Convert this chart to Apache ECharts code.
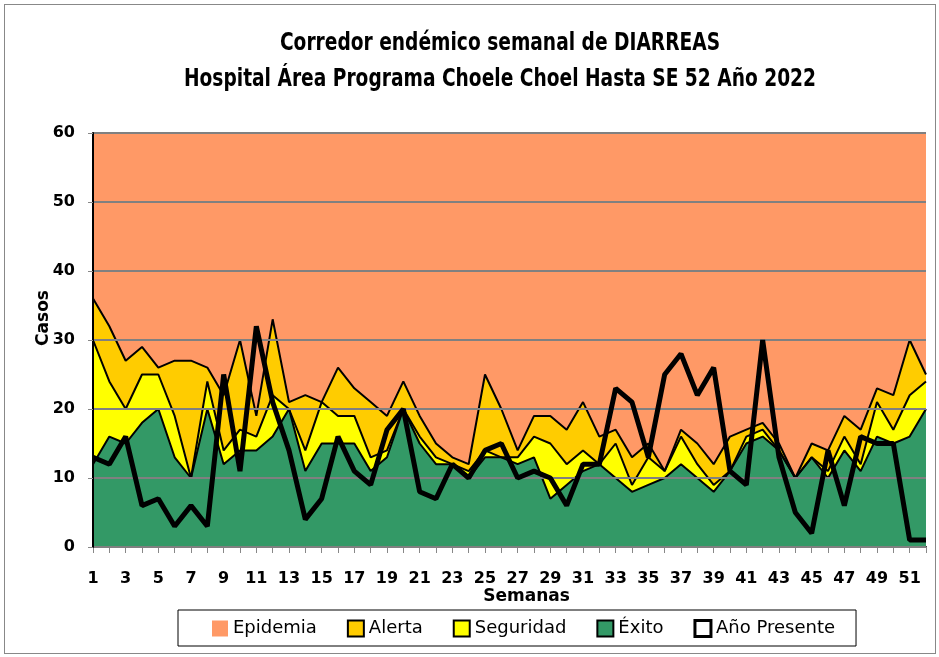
<!DOCTYPE html>
<html>
<head>
<meta charset="utf-8">
<script src="https://cdn.jsdelivr.net/npm/echarts@6/dist/echarts.min.js"></script>
<style>
    html, body {margin: 0; padding: 0; background: #fff;}
    #frame {position: absolute; left: 4px; top: 4px; width: 930px; height: 648px; border: 1px solid #888;}
    #chart {position: absolute; left: 0; top: 0; width: 939px; height: 657px;}
</style>
</head>
<body>
<div id="frame"></div>
<div id="chart"></div>
<script>
const FONT = "'DejaVu Sans', 'Liberation Sans', sans-serif";

const titleLines = [
    'Corredor endémico semanal de DIARREAS',
    'Hospital Área Programa Choele Choel Hasta SE 52 Año 2022'
];

const weeks = [];
for (let i = 1; i <= 52; i++) {
    weeks.push(String(i));
}

const epidemia = new Array(52).fill(60);

const alerta = [36, 32, 27, 29, 26, 27, 27, 26, 22, 30, 19, 33, 21, 22, 21, 26, 23, 21, 19, 24,
    19, 15, 13, 12, 25, 20, 14, 19, 19, 17, 21, 16, 17, 13, 15, 11, 17, 15, 12, 16,
    17, 18, 15, 10, 15, 14, 19, 17, 23, 22, 30, 25];

const seguridad = [30, 24, 20, 25, 25, 19, 10, 24, 14, 17, 16, 22, 20, 14, 21, 19, 19, 13, 14, 20,
    16, 13, 12, 11, 14, 13, 13, 16, 15, 12, 14, 12, 15, 9, 13, 11, 16, 12, 9, 11,
    16, 17, 14, 10, 13, 11, 16, 12, 21, 17, 22, 24];

const exito = [12, 16, 15, 18, 20, 13, 10, 20, 12, 14, 14, 16, 20, 11, 15, 15, 15, 11, 13, 20,
    15, 12, 12, 10, 13, 13, 12, 13, 7, 9, 11, 12, 10, 8, 9, 10, 12, 10, 8, 11,
    15, 16, 14, 10, 13, 10, 14, 11, 16, 15, 16, 20];

const anioPresente = [13, 12, 16, 6, 7, 3, 6, 3, 25, 11, 32, 21, 14, 4, 7, 16, 11, 9, 17, 20,
    8, 7, 12, 10, 14, 15, 10, 11, 10, 6, 12, 12, 23, 21, 13, 25, 28, 22, 26, 11,
    9, 30, 13, 5, 2, 14, 6, 16, 15, 15, 1, 1];

const yTicks = [0, 10, 20, 30, 40, 50, 60];

function areaSeries(name, data, color, lineWidth) {
    return {
        name: name,
        type: 'line',
        data: data,
        showSymbol: false,
        symbol: 'none',
        itemStyle: {color: color},
        lineStyle: {color: '#000', width: lineWidth},
        areaStyle: {color: color, opacity: 1},
        emphasis: {disabled: true}
    };
}

// titulo estrecho: texto escalado en x
function titleText(text, y) {
    return {
        type: 'text',
        x: 500,
        y: y,
        scaleX: 0.745,
        style: {
            text: text,
            x: 0,
            y: 0,
            align: 'center',
            verticalAlign: 'middle',
            font: 'bold 25px ' + FONT,
            fill: '#000'
        }
    };
}

const chart = echarts.init(document.getElementById('chart'));

chart.setOption({
    animation: false,
    graphic: [titleText(titleLines[0], 43), titleText(titleLines[1], 79)],
    grid: {left: 93, right: 13, top: 133, bottom: 110},
    xAxis: {
        type: 'category',
        data: weeks,
        boundaryGap: false,
        name: 'Semanas',
        nameLocation: 'middle',
        nameGap: 41,
        nameMoveOverlap: false,
        nameTextStyle: {fontFamily: FONT, fontSize: 17, fontWeight: 'bold', color: '#000', padding: [0, 0, 0, 34]},
        axisLine: {lineStyle: {color: '#000', width: 2}},
        axisTick: {show: true, interval: 0, length: 6, lineStyle: {color: '#888'}},
        axisLabel: {interval: 1, fontFamily: FONT, fontSize: 16, fontWeight: 'bold', color: '#000', margin: 24},
        splitLine: {show: false}
    },
    yAxis: {
        type: 'value',
        min: yTicks[0],
        max: yTicks[yTicks.length - 1],
        interval: 10,
        name: 'Casos',
        nameLocation: 'middle',
        nameGap: 41,
        nameMoveOverlap: false,
        nameTextStyle: {fontFamily: FONT, fontSize: 17, fontWeight: 'bold', color: '#000', padding: [0, 0, 0, 44]},
        axisLine: {show: true, lineStyle: {color: '#000', width: 2}},
        axisTick: {show: true, length: 5, lineStyle: {color: '#888'}},
        axisLabel: {fontFamily: FONT, fontSize: 16, fontWeight: 'bold', color: '#000', margin: 18},
        splitLine: {show: true, lineStyle: {color: '#808080', width: 2}},
        z: 5
    },
    legend: {
        bottom: 11,
        left: 178,
        padding: [9, 21, 8, 34],
        itemGap: 30,
        itemWidth: 16,
        itemHeight: 16,
        icon: 'rect',
        borderColor: '#000',
        borderWidth: 1,
        textStyle: {fontFamily: FONT, fontSize: 18, lineHeight: 17, color: '#000'},
        data: [
            {name: 'Epidemia', itemStyle: {color: '#FF9966', borderWidth: 0}},
            {name: 'Alerta', itemStyle: {color: '#FFCC00', borderColor: '#000', borderWidth: 2}},
            {name: 'Seguridad', itemStyle: {color: '#FFFF00', borderColor: '#000', borderWidth: 2}},
            {name: 'Éxito', itemStyle: {color: '#339966', borderColor: '#000', borderWidth: 2}},
            {name: 'Año Presente', itemStyle: {color: '#fff', borderColor: '#000', borderWidth: 3}}
        ]
    },
    series: [
        areaSeries('Epidemia', epidemia, '#FF9966', 0),
        areaSeries('Alerta', alerta, '#FFCC00', 2),
        areaSeries('Seguridad', seguridad, '#FFFF00', 2),
        areaSeries('Éxito', exito, '#339966', 2),
        {
            name: 'Año Presente',
            type: 'line',
            data: anioPresente,
            showSymbol: false,
            symbol: 'none',
            itemStyle: {color: '#fff'},
            lineStyle: {color: '#000', width: 5},
            emphasis: {disabled: true},
            z: 10
        }
    ]
});
</script>
</body>
</html>
